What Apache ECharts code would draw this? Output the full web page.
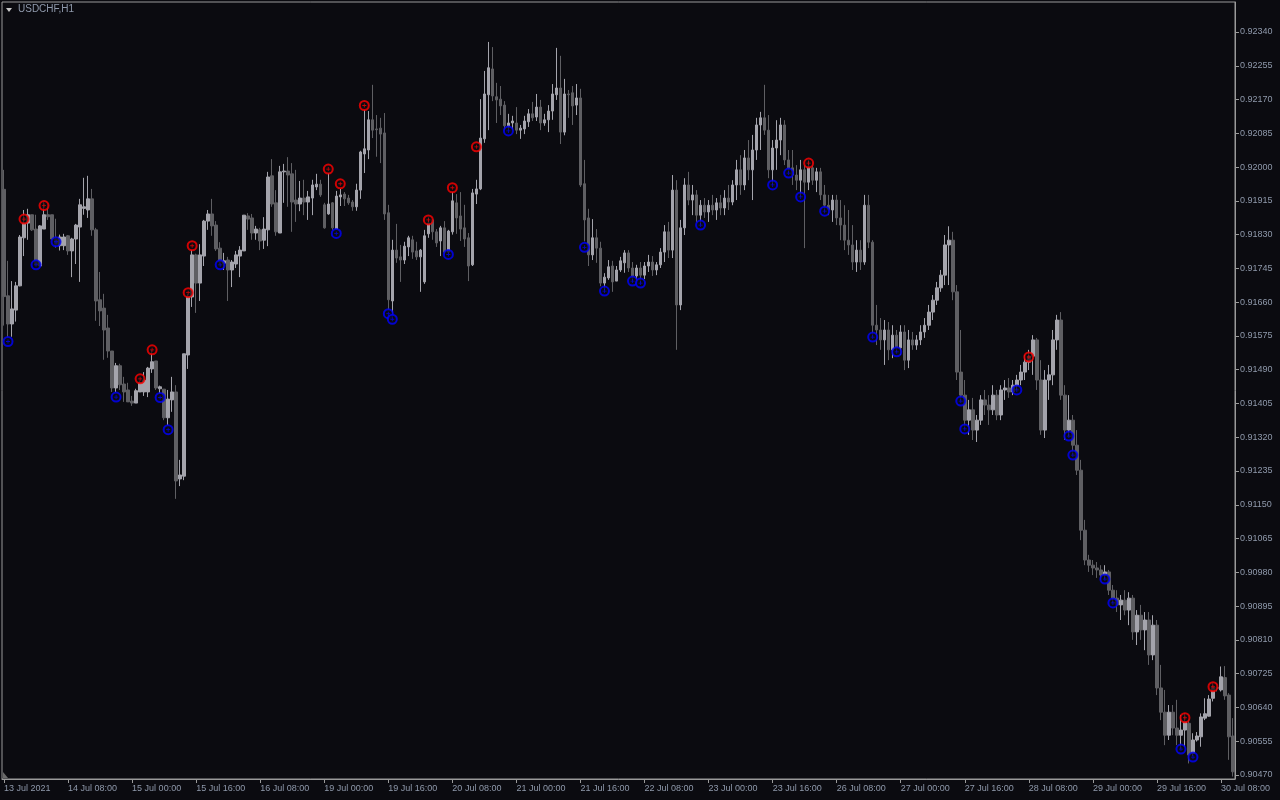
<!DOCTYPE html>
<html><head><meta charset="utf-8">
<script src="https://cdn.jsdelivr.net/npm/echarts@6/dist/echarts.min.js"></script>
<style>html,body{margin:0;padding:0;background:#0b0b10;}#c{width:1280px;height:800px;}</style>
</head><body><div id="c"></div>
<script>
const symbolName = 'USDCHF,H1';
const barCount = 308;
const xTickLabels = ['13 Jul 2021','14 Jul 08:00','15 Jul 00:00','15 Jul 16:00','16 Jul 08:00','19 Jul 00:00','19 Jul 16:00','20 Jul 08:00','21 Jul 00:00','21 Jul 16:00','22 Jul 08:00','23 Jul 00:00','23 Jul 16:00','26 Jul 08:00','27 Jul 00:00','27 Jul 16:00','28 Jul 08:00','29 Jul 00:00','29 Jul 16:00','30 Jul 08:00'];
const yTickValues = [0.92340,0.92255,0.92170,0.92085,0.92000,0.91915,0.91830,0.91745,0.91660,0.91575,0.91490,0.91405,0.91320,0.91235,0.91150,0.91065,0.90980,0.90895,0.90810,0.90725,0.90640,0.90555,0.90470];

const opens = [
0.91944,0.91676,0.91605,0.91640,0.91701,0.91822,0.91859,0.91880,0.91844,0.91751,
0.91844,0.91880,0.91880,0.91819,0.91802,0.91802,0.91827,0.91789,0.91819,0.91849,
0.91896,0.91892,0.91920,0.91842,0.91666,0.91645,0.91595,0.91537,0.91444,0.91500,
0.91454,0.91439,0.91411,0.91406,0.91434,0.91434,0.91434,0.91492,0.91512,0.91442,
0.91441,0.91369,0.91414,0.91434,0.91215,0.91222,0.91527,0.91673,0.91779,0.91708,
0.91776,0.91864,0.91882,0.91854,0.91796,0.91758,0.91766,0.91741,0.91756,0.91776,
0.91789,0.91877,0.91872,0.91834,0.91842,0.91816,0.91842,0.91978,0.91910,0.91834,
0.91988,0.91990,0.91983,0.91917,0.91907,0.91922,0.91912,0.91922,0.91950,0.91957,
0.91905,0.91882,0.91910,0.91844,0.91925,0.91932,0.91922,0.91912,0.91900,0.91942,
0.92033,0.92043,0.92119,0.92096,0.92098,0.92086,0.91885,0.91663,0.91791,0.91774,
0.91766,0.91799,0.91817,0.91789,0.91774,0.91711,0.91832,0.91867,0.91837,0.91814,
0.91847,0.91786,0.91837,0.91910,0.91877,0.91847,0.91822,0.91754,0.91932,0.91945,
0.92071,0.92182,0.92247,0.92177,0.92171,0.92156,0.92104,0.92111,0.92111,0.92093,
0.92096,0.92114,0.92134,0.92126,0.92151,0.92111,0.92119,0.92141,0.92182,0.92199,
0.92088,0.92184,0.92187,0.92156,0.92174,0.91958,0.91872,0.91779,0.91822,0.91796,
0.91708,0.91721,0.91751,0.91713,0.91741,0.91759,
0.91784,0.91746,0.91726,0.91746,0.91728,0.91751,0.91761,0.91741,0.91754,0.91786,
0.91837,0.91791,0.91942,0.91653,0.91847,0.91955,0.91917,0.91930,0.91879,0.91904,
0.91887,0.91904,0.91892,0.91910,0.91897,0.91922,0.91912,0.91955,0.91993,0.91955,
0.92023,0.91993,0.92043,0.92106,0.92124,0.92093,0.91993,0.92048,0.92068,0.92106,
0.92018,0.91998,0.91980,0.91967,0.91993,0.91962,0.91998,0.91967,0.91988,0.91930,
0.91904,0.91892,0.91917,0.91872,0.91854,0.91816,0.91804,0.91761,0.91791,0.91761,
0.91904,0.91811,0.91602,0.91590,0.91565,0.91590,0.91540,0.91577,0.91545,0.91585,
0.91514,0.91565,0.91552,0.91565,0.91585,0.91602,0.91635,0.91665,0.91696,0.91728,
0.91804,0.91816,0.91686,0.91484,0.91426,0.91363,0.91389,0.91338,0.91363,0.91414,
0.91401,0.91389,0.91426,0.91376,0.91439,0.91444,0.91434,0.91451,0.91464,0.91484,
0.91509,0.91524,0.91565,0.91464,0.91338,0.91464,0.91477,0.91565,0.91615,0.91426,
0.91338,0.91363,0.91300,0.91237,0.91086,0.91011,0.90998,0.90991,0.90986,0.90973,
0.90981,0.90935,0.90915,0.90898,0.90910,0.90885,0.90915,0.90830,0.90872,0.90835,
0.90860,0.90772,0.90847,0.90689,0.90628,0.90570,0.90628,0.90588,0.90570,0.90583,
0.90600,0.90524,0.90558,0.90566,0.90613,0.90618,0.90663,0.90690,0.90684,0.90715,0.90671,0.90568];
const highs = [
0.91993,0.91764,0.91713,0.91711,0.91829,0.91892,0.91895,0.91880,0.91880,0.91854,
0.91912,0.91908,0.91880,0.91870,0.91830,0.91832,0.91829,0.91822,0.91857,0.91920,
0.91973,0.91978,0.91945,0.91847,0.91736,0.91681,0.91628,0.91537,0.91507,0.91505,
0.91472,0.91457,0.91424,0.91442,0.91462,0.91484,0.91497,0.91540,0.91512,0.91450,
0.91441,0.91439,0.91472,0.91451,0.91263,0.91530,0.91680,0.91791,0.91782,0.91806,
0.91867,0.91892,0.91920,0.91864,0.91811,0.91784,0.91774,0.91766,0.91789,0.91801,
0.91879,0.91884,0.91882,0.91852,0.91847,0.91874,0.91988,0.92020,0.91942,0.92003,
0.92008,0.92025,0.92010,0.91993,0.91965,0.91968,0.91940,0.91968,0.91983,0.91968,
0.91910,0.91985,0.91912,0.91940,0.91945,0.91937,0.91930,0.91917,0.91958,0.92041,
0.92144,0.92141,0.92207,0.92131,0.92124,0.92136,0.91905,0.91817,0.91857,0.91804,
0.91812,0.91827,0.91827,0.91812,0.91794,0.91842,0.91874,0.91869,0.91844,0.91852,
0.91864,0.91842,0.91937,0.91932,0.91937,0.91905,0.91834,0.91945,0.91968,0.92171,
0.92242,0.92315,0.92302,0.92212,0.92204,0.92166,0.92134,0.92129,0.92151,0.92106,
0.92129,0.92146,0.92164,0.92184,0.92169,0.92134,0.92156,0.92209,0.92300,0.92280,
0.92222,0.92194,0.92204,0.92209,0.92197,0.92018,0.91895,0.91869,0.91844,0.91812,
0.91733,0.91766,0.91764,0.91751,0.91774,0.91791,
0.91791,0.91761,0.91754,0.91761,0.91761,0.91779,0.91776,0.91761,0.91796,0.91854,
0.91862,0.91980,0.91967,0.91867,0.91972,0.91988,0.91955,0.91942,0.91917,0.91922,
0.91917,0.91930,0.91922,0.91930,0.91942,0.91955,0.91967,0.92018,0.92030,0.92043,
0.92068,0.92081,0.92124,0.92139,0.92207,0.92131,0.92068,0.92118,0.92124,0.92118,
0.92043,0.92043,0.92005,0.92018,0.92005,0.92018,0.92013,0.91998,0.91998,0.91955,
0.91930,0.91930,0.91930,0.91917,0.91904,0.91892,0.91854,0.91816,0.91816,0.91930,
0.91930,0.91816,0.91653,0.91620,0.91615,0.91610,0.91602,0.91590,0.91602,0.91602,
0.91590,0.91585,0.91577,0.91602,0.91620,0.91653,0.91678,0.91711,0.91741,0.91829,
0.91851,0.91837,0.91703,0.91590,0.91464,0.91414,0.91419,0.91376,0.91426,0.91439,
0.91426,0.91451,0.91439,0.91451,0.91464,0.91469,0.91464,0.91477,0.91502,0.91527,
0.91540,0.91577,0.91570,0.91514,0.91489,0.91502,0.91590,0.91628,0.91635,0.91451,
0.91426,0.91376,0.91338,0.91263,0.91112,0.91024,0.91011,0.91006,0.90998,0.90998,
0.90986,0.90948,0.90935,0.90923,0.90935,0.90930,0.90923,0.90885,0.90898,0.90880,
0.90880,0.90872,0.90860,0.90747,0.90684,0.90646,0.90646,0.90659,0.90621,0.90625,
0.90610,0.90575,0.90578,0.90625,0.90663,0.90671,0.90701,0.90700,0.90743,0.90744,0.90676,0.90613];
const lows = [
0.91601,0.91573,0.91573,0.91611,0.91700,0.91776,0.91817,0.91839,0.91754,0.91751,
0.91844,0.91867,0.91819,0.91797,0.91790,0.91791,0.91779,0.91723,0.91756,0.91711,
0.91880,0.91872,0.91827,0.91613,0.91600,0.91515,0.91520,0.91434,0.91434,0.91439,
0.91409,0.91409,0.91399,0.91406,0.91434,0.91424,0.91421,0.91482,0.91439,0.91430,
0.91363,0.91351,0.91384,0.91165,0.91197,0.91212,0.91492,0.91648,0.91633,0.91663,
0.91751,0.91842,0.91827,0.91789,0.91755,0.91741,0.91663,0.91698,0.91746,0.91723,
0.91789,0.91842,0.91817,0.91817,0.91791,0.91794,0.91801,0.91900,0.91827,0.91834,
0.91910,0.91900,0.91837,0.91862,0.91889,0.91879,0.91867,0.91879,0.91942,0.91925,
0.91845,0.91880,0.91842,0.91842,0.91902,0.91902,0.91905,0.91890,0.91890,0.91920,
0.91985,0.92020,0.92073,0.92026,0.92010,0.91867,0.91640,0.91622,0.91759,0.91711,
0.91756,0.91776,0.91769,0.91766,0.91686,0.91706,0.91822,0.91817,0.91799,0.91776,
0.91779,0.91782,0.91830,0.91832,0.91814,0.91799,0.91713,0.91751,0.91907,0.91942,
0.92061,0.92093,0.92166,0.92111,0.92131,0.92093,0.92096,0.92093,0.92083,0.92071,
0.92083,0.92101,0.92116,0.92116,0.92093,0.92104,0.92088,0.92119,0.92169,0.92058,
0.92080,0.92124,0.92106,0.92131,0.91950,0.91813,0.91751,0.91766,0.91759,0.91700,
0.91690,0.91716,0.91686,0.91713,0.91736,0.91734,
0.91736,0.91713,0.91716,0.91708,0.91718,0.91736,0.91726,0.91728,0.91746,0.91761,
0.91771,0.91771,0.91540,0.91640,0.91829,0.91904,0.91879,0.91862,0.91854,0.91872,
0.91862,0.91879,0.91867,0.91879,0.91879,0.91892,0.91904,0.91917,0.91930,0.91942,
0.91967,0.91917,0.92018,0.92043,0.92081,0.91972,0.91955,0.91993,0.92030,0.92005,
0.91985,0.91955,0.91942,0.91925,0.91796,0.91942,0.91955,0.91937,0.91917,0.91889,
0.91879,0.91862,0.91854,0.91816,0.91791,0.91779,0.91741,0.91736,0.91741,0.91754,
0.91796,0.91572,0.91552,0.91540,0.91502,0.91514,0.91519,0.91535,0.91527,0.91489,
0.91494,0.91540,0.91540,0.91552,0.91570,0.91590,0.91615,0.91653,0.91686,0.91703,
0.91703,0.91665,0.91464,0.91411,0.91341,0.91326,0.91313,0.91308,0.91351,0.91376,
0.91351,0.91376,0.91363,0.91363,0.91414,0.91419,0.91426,0.91439,0.91451,0.91464,
0.91489,0.91477,0.91439,0.91326,0.91318,0.91414,0.91451,0.91540,0.91414,0.91313,
0.91323,0.91275,0.91225,0.91061,0.90998,0.90981,0.90973,0.90966,0.90961,0.90963,
0.90923,0.90903,0.90880,0.90860,0.90872,0.90847,0.90810,0.90797,0.90810,0.90784,
0.90747,0.90759,0.90671,0.90608,0.90545,0.90558,0.90570,0.90545,0.90535,0.90541,
0.90499,0.90518,0.90554,0.90541,0.90608,0.90617,0.90655,0.90680,0.90680,0.90659,0.90508,0.90466];
const closes = [
0.91674,0.91605,0.91643,0.91701,0.91824,0.91859,0.91880,0.91842,0.91754,0.91852,
0.91880,0.91875,0.91819,0.91805,0.91824,0.91824,0.91789,0.91819,0.91854,0.91905,
0.91900,0.91920,0.91842,0.91663,0.91638,0.91590,0.91537,0.91444,0.91500,0.91452,
0.91434,0.91409,0.91406,0.91437,0.91457,0.91464,0.91494,0.91510,0.91444,0.91447,
0.91369,0.91416,0.91434,0.91210,0.91225,0.91530,0.91675,0.91779,0.91708,0.91779,
0.91864,0.91882,0.91852,0.91794,0.91761,0.91764,0.91741,0.91761,0.91779,0.91791,
0.91879,0.91869,0.91834,0.91844,0.91814,0.91844,0.91975,0.91907,0.91837,0.91988,
0.91990,0.91980,0.91912,0.91907,0.91922,0.91912,0.91925,0.91955,0.91957,0.91930,
0.91847,0.91907,0.91847,0.91927,0.91930,0.91920,0.91910,0.91900,0.91942,0.92038,
0.92046,0.92119,0.92093,0.92094,0.92083,0.91882,0.91666,0.91791,0.91771,0.91766,
0.91801,0.91822,0.91786,0.91774,0.91791,0.91827,0.91859,0.91837,0.91809,0.91847,
0.91786,0.91839,0.91915,0.91872,0.91844,0.91819,0.91751,0.91935,0.91945,0.92073,
0.92184,0.92250,0.92179,0.92169,0.92154,0.92104,0.92111,0.92116,0.92093,0.92098,
0.92116,0.92134,0.92124,0.92151,0.92111,0.92119,0.92141,0.92184,0.92199,0.92088,
0.92184,0.92182,0.92154,0.92174,0.91955,0.91867,0.91779,0.91822,0.91796,0.91708,
0.91723,0.91749,0.91711,0.91741,0.91764,0.91784,
0.91746,0.91726,0.91746,0.91728,0.91751,0.91761,0.91741,0.91754,0.91786,0.91837,
0.91791,0.91942,0.91653,0.91847,0.91955,0.91917,0.91930,0.91879,0.91904,0.91887,
0.91904,0.91892,0.91910,0.91897,0.91922,0.91912,0.91955,0.91993,0.91955,0.92023,
0.91993,0.92043,0.92106,0.92124,0.92093,0.91993,0.92048,0.92068,0.92106,0.92018,
0.91998,0.91980,0.91967,0.91993,0.91962,0.91998,0.91967,0.91988,0.91930,0.91904,
0.91892,0.91917,0.91872,0.91854,0.91816,0.91804,0.91761,0.91791,0.91761,0.91904,
0.91811,0.91602,0.91590,0.91565,0.91590,0.91540,0.91577,0.91545,0.91585,0.91514,
0.91565,0.91552,0.91565,0.91585,0.91602,0.91635,0.91665,0.91696,0.91728,0.91804,
0.91816,0.91686,0.91484,0.91426,0.91363,0.91389,0.91338,0.91363,0.91414,0.91401,
0.91389,0.91426,0.91376,0.91439,0.91444,0.91434,0.91451,0.91464,0.91484,0.91509,
0.91524,0.91565,0.91464,0.91338,0.91464,0.91477,0.91565,0.91615,0.91426,0.91338,
0.91363,0.91300,0.91237,0.91086,0.91011,0.90998,0.90991,0.90986,0.90973,0.90981,
0.90935,0.90915,0.90898,0.90910,0.90885,0.90915,0.90830,0.90872,0.90835,0.90860,
0.90772,0.90847,0.90689,0.90628,0.90570,0.90628,0.90588,0.90570,0.90583,0.90604,
0.90520,0.90558,0.90568,0.90616,0.90624,0.90661,0.90690,0.90688,0.90717,0.90669,0.90566,0.90478];

const upIdx = [5,10,34,37,46,47,81,84,90,106,112,118,201,256,295,302];
const upPrice = [0.91869,0.91903,0.91467,0.91540,0.91684,0.91802,0.91995,0.91958,0.92155,0.91867,0.91948,0.92051,0.92010,0.91522,0.90614,0.90692];
const downIdx = [1,8,13,28,39,41,54,83,96,97,111,126,145,150,157,159,174,192,196,199,205,217,223,239,240,253,266,267,275,277,294,297];
const downPrice = [0.91561,0.91754,0.91812,0.91421,0.91420,0.91339,0.91754,0.91833,0.91631,0.91617,0.91780,0.92091,0.91798,0.91688,0.91713,0.91708,0.91854,0.91955,0.91985,0.91925,0.91889,0.91572,0.91535,0.91411,0.91341,0.91439,0.91323,0.91275,0.90963,0.90903,0.90535,0.90515];

const categories = Array.from({length: barCount}, (_, i) => i);
const candles = opens.map((o, i) => [o, closes[i], lows[i], highs[i]]);
const upData = upIdx.map((i, k) => [i, upPrice[k]]);
const downData = downIdx.map((i, k) => [i, downPrice[k]]);

const textColor = '#8f99ab';
const frameColor = '#9a9a9a';
const bg = '#0b0b10';
const crossPath = 'path://M4,0H6V10H4Z M0,4H10V6H0Z';
const chart = echarts.init(document.getElementById('c'), null, {renderer: 'canvas'});
chart.setOption({
  backgroundColor: bg,
  animation: false,
  grid: {left: 2, right: 45, top: 2, bottom: 21, show: true, borderColor: frameColor, borderWidth: 1, backgroundColor: 'transparent'},
  xAxis: {
    type: 'category', data: categories, boundaryGap: true,
    axisLine: {show: true, lineStyle: {color: frameColor}},
    axisTick: {show: true, alignWithLabel: true, interval: 15, length: 4, lineStyle: {color: frameColor}},
    axisLabel: {show: true, interval: 15, align: 'left', margin: 5, color: textColor, fontFamily: 'Liberation Sans', fontSize: 9,
      formatter: (v, idx) => xTickLabels[Math.round(idx / 16)] || ''},
    splitLine: {show: false}
  },
  yAxis: {
    type: 'value', position: 'right', scale: true,
    min: 0.904598, max: 0.924155,
    axisLine: {show: true, lineStyle: {color: frameColor}},
    axisTick: {show: true, length: 4, customValues: yTickValues, lineStyle: {color: frameColor}},
    axisLabel: {show: true, margin: 5, color: textColor, fontFamily: 'Liberation Sans', fontSize: 9, customValues: yTickValues,
      formatter: v => v.toFixed(5)},
    splitLine: {show: false}
  },
  graphic: [
    {type: 'polygon', shape: {points: [[6, 8], [12, 8], [9, 12]]}, style: {fill: '#c8c8c8'}},
    {type: 'text', left: 18, top: 4, style: {text: symbolName, fill: textColor, font: '10px "Liberation Sans"'}},
    {type: 'polygon', shape: {points: [[3, 772], [3, 778], [8, 778]]}, style: {fill: '#6a6a6a'}}
  ],
  series: [
    {type: 'candlestick', data: candles, barWidth: 3,
      itemStyle: {color: '#a4a4ac', color0: '#5f5f63', borderColor: '#a4a4ac', borderColor0: '#5f5f63', borderWidth: 1}},
    {type: 'scatter', data: upData, symbol: 'circle', symbolSize: 9, z: 5,
      itemStyle: {color: bg, borderColor: '#ff0000', borderWidth: 2}},
    {type: 'scatter', data: upData, symbol: crossPath, symbolSize: 4, z: 6,
      itemStyle: {color: '#ff0000'}},
    {type: 'scatter', data: downData, symbol: 'circle', symbolSize: 9, z: 5,
      itemStyle: {color: bg, borderColor: '#0000ff', borderWidth: 2}},
    {type: 'scatter', data: downData, symbol: crossPath, symbolSize: 4, z: 6,
      itemStyle: {color: '#0000ff'}}
  ]
});
</script></body></html>
